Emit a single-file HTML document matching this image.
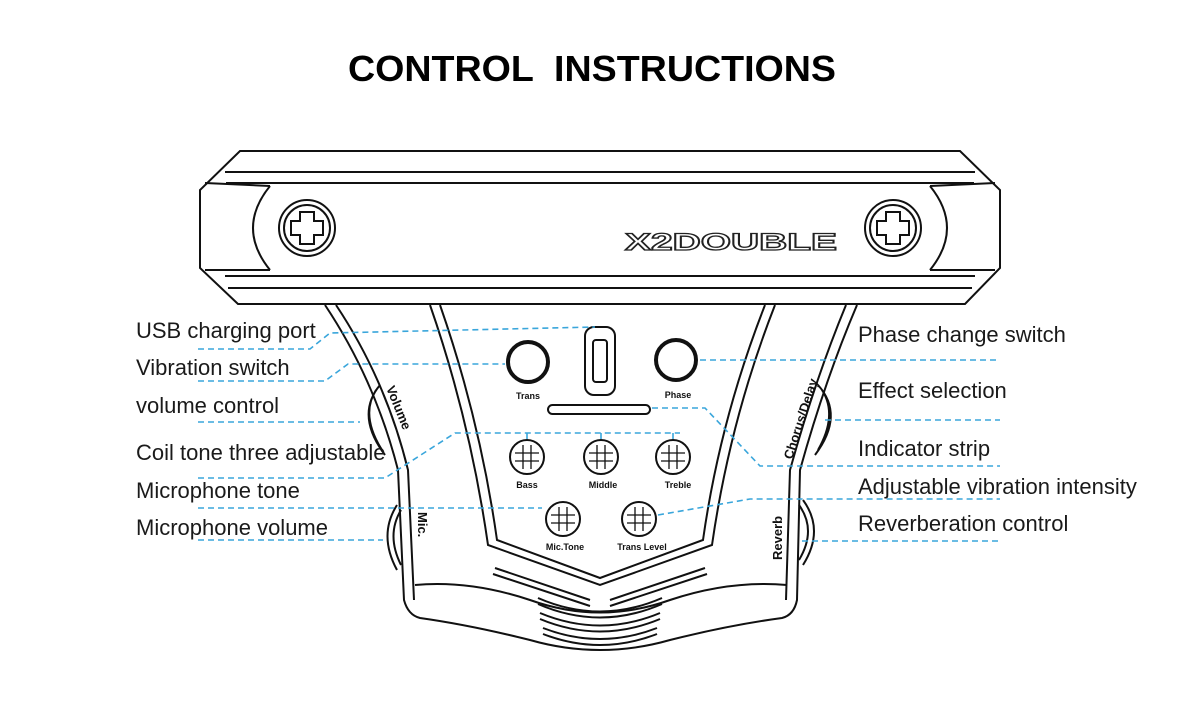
<!DOCTYPE html>
<html><head><meta charset="utf-8"><style>
html,body{margin:0;padding:0;background:#fff;}
svg{display:block;}
.lb{font-family:"Liberation Sans",sans-serif;font-size:22px;fill:#1a1a1a;}
.sm{font-family:"Liberation Sans",sans-serif;font-size:9px;font-weight:bold;fill:#111;}
.md{font-family:"Liberation Sans",sans-serif;font-size:13px;font-weight:bold;fill:#111;}
.d{stroke:#3aa6db;stroke-width:1.6;stroke-dasharray:6 4;fill:none;}
.k{stroke:#111;fill:none;stroke-width:2;}
</style></head><body>
<svg width="1181" height="702" viewBox="0 0 1181 702" xmlns="http://www.w3.org/2000/svg">
<text x="348" y="81" font-family="Liberation Sans,sans-serif" font-weight="bold" font-size="36" fill="#000" xml:space="preserve" textLength="488" lengthAdjust="spacingAndGlyphs">CONTROL  INSTRUCTIONS</text>

<!-- top bar -->
<path class="k" d="M240 151 L960 151 L1000 190 L1000 268 L965 304 L238 304 L200 268 L200 190 Z" stroke-width="2.5"/>
<path class="k" d="M225 172 L975 172 M226 183 L974 183 M225 276 L975 276 M228 288 L972 288" stroke-width="1.5"/>
<path class="k" d="M270 186 Q236 228 270 270 M930 186 Q964 228 930 270" stroke-width="1.8"/>
<path class="k" d="M205 183 L270 186 M205 270 L270 270 M995 183 L930 186 M995 270 L930 270" stroke-width="1.5"/>
<g class="k" stroke-width="2">
<circle cx="307" cy="228" r="28"/><circle cx="307" cy="228" r="23"/>
<path d="M300 212 h14 v9 h9 v14 h-9 v9 h-14 v-9 h-9 v-14 h9 z"/>
<circle cx="893" cy="228" r="28"/><circle cx="893" cy="228" r="23"/>
<path d="M886 212 h14 v9 h9 v14 h-9 v9 h-14 v-9 h-9 v-14 h9 z"/>
</g>
<text x="625" y="250" font-family="Liberation Sans,sans-serif" font-size="24" font-weight="bold" fill="#fff" stroke="#222" stroke-width="1.3" textLength="212" lengthAdjust="spacingAndGlyphs">X2DOUBLE</text>

<!-- body outer -->
<path class="k" d="M325 305 Q375 380 398 470 L404 600 Q408 615 420 618 Q470 625 530 640 Q600 660 670 640 Q730 625 782 618 Q794 615 797 600 L800 470 Q825 380 857 305"/>
<path class="k" d="M336 305 Q386 380 408 470 L414 600 M846 305 Q815 380 790 470 L786 600" stroke-width="1.5"/>
<path class="k" d="M415 585 Q470 580 530 600 Q600 625 670 600 Q730 580 787 585" stroke-width="1.5"/>
<!-- inner panel -->
<path class="k" d="M430 305 Q470 420 488 545 L600 585 L712 545 Q730 420 775 305"/>
<path class="k" d="M440 305 Q480 420 497 540 L600 578 L703 540 Q720 420 765 305" stroke-width="1.5"/>
<!-- slots -->
<g class="k" stroke-width="1.8">
<path d="M495 568 L590 600 M493 574 L590 606 M705 568 L610 600 M707 574 L610 606"/>
<path d="M538 598 Q600 625 662 598 M538 604 Q600 631 662 604"/>
<path d="M540 613 Q600 638 660 613 M540 619 Q600 644 660 619"/>
<path d="M543 628 Q600 650 657 628 M543 634 Q600 656 657 634"/>
</g>
<!-- side knobs -->
<path class="k" d="M380 385 Q355 415 385 455 M376 390 Q360 415 382 450" stroke-width="1.8"/>
<path class="k" d="M397 505 Q378 535 397 570 M401 510 Q386 535 401 565" stroke-width="1.8"/>
<path class="k" d="M818 385 Q845 415 815 455 M822 390 Q838 415 818 450" stroke-width="1.8"/>
<path class="k" d="M803 500 Q825 530 803 565 M799 505 Q817 530 799 560" stroke-width="1.8"/>
<text class="md" transform="translate(386,388) rotate(68)">Volume</text>
<text class="md" transform="translate(418,512) rotate(90)">Mic.</text>
<text class="md" transform="translate(792,460) rotate(-72)">Chorus/Delay</text>
<text class="md" transform="translate(782,560) rotate(-90)">Reverb</text>

<!-- panel components -->
<circle cx="528" cy="362" r="20" stroke="#111" stroke-width="4" fill="none"/>
<circle cx="676" cy="360" r="20" stroke="#111" stroke-width="4" fill="none"/>
<rect x="585" y="327" width="30" height="68" rx="9" class="k" stroke-width="2.5"/>
<rect x="593" y="340" width="14" height="42" rx="3" class="k" stroke-width="1.5"/>
<text class="sm" x="528" y="399" text-anchor="middle">Trans</text>
<text class="sm" x="678" y="398" text-anchor="middle">Phase</text>
<rect x="548" y="405" width="102" height="9" rx="4.5" class="k" stroke-width="2.5"/>
<g class="k" stroke-width="2">
<circle cx="527" cy="457" r="17"/><circle cx="601" cy="457" r="17"/><circle cx="673" cy="457" r="17"/>
<circle cx="563" cy="519" r="17"/><circle cx="639" cy="519" r="17"/>
<path d="M523 445v24M531 445v24M515 453h24M515 461h24 M597 445v24M605 445v24M589 453h24M589 461h24 M669 445v24M677 445v24M661 453h24M661 461h24 M559 507v24M567 507v24M551 515h24M551 523h24 M635 507v24M643 507v24M627 515h24M627 523h24" stroke-width="1.3"/>
</g>
<text class="sm" x="527" y="488" text-anchor="middle">Bass</text>
<text class="sm" x="603" y="488" text-anchor="middle">Middle</text>
<text class="sm" x="678" y="488" text-anchor="middle">Treble</text>
<text class="sm" x="565" y="550" text-anchor="middle">Mic.Tone</text>
<text class="sm" x="642" y="550" text-anchor="middle">Trans Level</text>

<!-- dashed leaders -->
<path class="d" d="M198 349 L310 349 L330 333 L595 327"/>
<path class="d" d="M198 381 L325 381 L348 364 L505 364"/>
<path class="d" d="M198 422 L360 422"/>
<path class="d" d="M198 478 L385 478 L455 433 L680 433"/>
<path class="d" d="M527 433 V440 M601 433 V440 M673 433 V440" stroke-dasharray="none"/>
<path class="d" d="M198 508 L542 508"/>
<path class="d" d="M198 540 L383 540"/>
<path class="d" d="M700 360 L1000 360"/>
<path class="d" d="M825 420 L1000 420"/>
<path class="d" d="M652 408 L705 408 L760 466 L1000 466"/>
<path class="d" d="M658 515 L750 499 L1000 499"/>
<path class="d" d="M802 541 L1000 541"/>

<!-- labels -->
<text class="lb" x="136" y="338">USB charging port</text>
<text class="lb" x="136" y="375">Vibration switch</text>
<text class="lb" x="136" y="413">volume control</text>
<text class="lb" x="136" y="460">Coil tone three adjustable</text>
<text class="lb" x="136" y="498">Microphone tone</text>
<text class="lb" x="136" y="535">Microphone volume</text>
<text class="lb" x="858" y="342">Phase change switch</text>
<text class="lb" x="858" y="398">Effect selection</text>
<text class="lb" x="858" y="456">Indicator strip</text>
<text class="lb" x="858" y="494">Adjustable vibration intensity</text>
<text class="lb" x="858" y="531">Reverberation control</text>
</svg>
</body></html>
